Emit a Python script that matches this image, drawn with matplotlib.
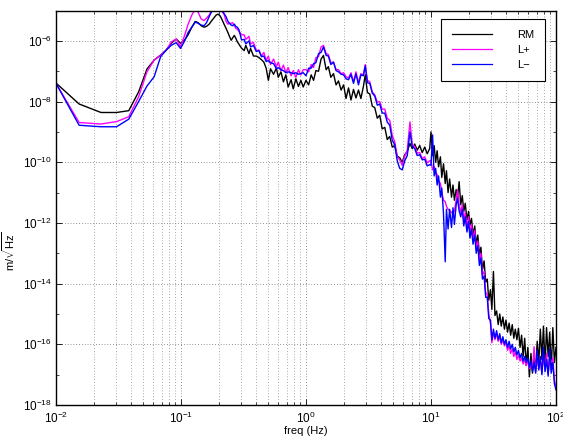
import numpy as np
import matplotlib
matplotlib.use('Agg')
import matplotlib.pyplot as plt
from matplotlib.ticker import LogLocator, NullFormatter, LogFormatterSciNotation

plt.rcParams['font.family'] = ['Liberation Sans', 'DejaVu Sans']
plt.rcParams['mathtext.fontset'] = 'custom'
plt.rcParams['mathtext.rm'] = 'Liberation Sans'
plt.rcParams['mathtext.it'] = 'Liberation Sans:italic'
plt.rcParams['font.size'] = 8

## ---------------------------------------------------------------
## Spectra, stored as log10 of the amplitude (m/sqrt(Hz))

# 0.01 - 0.3 Hz (raw FFT bins)
freq_low = [0.0100, 0.0153, 0.0229, 0.0305, 0.0382, 0.0458, 0.0534, 0.0610, 0.0687, 0.0763,
            0.0839, 0.0916, 0.0992, 0.107, 0.114, 0.122, 0.130, 0.137, 0.145, 0.153,
            0.160, 0.168, 0.175, 0.183, 0.191, 0.198, 0.206, 0.214, 0.221, 0.229,
            0.237, 0.244, 0.252, 0.259, 0.267, 0.275, 0.282, 0.290, 0.298, 0.305]
rm_low = [-7.39, -8.08, -8.36, -8.36, -8.30, -7.68, -6.93, -6.63, -6.47, -6.30,
          -6.07, -5.94, -6.08, -5.97, -5.80, -5.55, -5.36, -5.40, -5.50, -5.55,
          -5.52, -5.45, -5.35, -5.25, -5.15, -5.12, -5.18, -5.32, -5.45, -5.58,
          -5.72, -5.85, -5.98, -5.90, -5.82, -5.92, -6.03, -6.10, -6.18, -6.24]
lp_low = [-7.40, -8.69, -8.74, -8.66, -8.50, -7.84, -7.02, -6.63, -6.47, -6.30,
          -6.03, -5.94, -6.19, -5.81, -5.45, -5.15, -4.95, -5.05, -5.28, -5.33,
          -5.25, -5.15, -5.02, -4.92, -4.90, -4.95, -4.98, -5.05, -5.12, -5.35,
          -5.45, -5.42, -5.42, -5.40, -5.50, -5.59, -5.62, -5.68, -5.74, -5.80]
lm_low = [-7.40, -8.78, -8.83, -8.83, -8.58, -8.00, -7.49, -7.18, -6.52, -6.30,
          -6.14, -6.06, -6.25, -6.00, -5.72, -5.55, -5.38, -5.42, -5.48, -5.50,
          -5.40, -5.20, -5.05, -4.95, -4.92, -4.95, -4.97, -5.00, -5.10, -5.20,
          -5.35, -5.42, -5.48, -5.50, -5.45, -5.53, -5.55, -5.62, -5.80, -5.97]

# 0.3 - 1 Hz
freq_mid = [0.32, 0.33, 0.35, 0.36, 0.38, 0.40, 0.42, 0.44, 0.46, 0.48,
            0.50, 0.52, 0.55, 0.58, 0.60, 0.63, 0.66, 0.69, 0.72, 0.76,
            0.79, 0.83, 0.87, 0.91, 0.95]
rm_mid = [-6.32, -6.15, -6.42, -6.25, -6.50, -6.50, -6.55, -6.62, -6.70, -6.90,
          -7.30, -6.92, -7.10, -6.90, -7.20, -7.02, -7.35, -7.12, -7.52, -7.28,
          -7.58, -7.25, -7.50, -7.30, -7.52]
lp_mid = [-5.80, -5.95, -5.85, -6.10, -6.05, -6.32, -6.30, -6.50, -6.38, -6.65,
          -6.50, -6.78, -6.60, -6.85, -6.70, -6.98, -6.80, -7.05, -6.88, -7.15,
          -6.98, -7.20, -6.95, -7.12, -6.95]
lm_mid = [-5.95, -6.10, -6.00, -6.20, -6.15, -6.35, -6.32, -6.52, -6.50, -6.68,
          -6.65, -6.72, -6.75, -6.92, -6.88, -6.95, -6.98, -7.05, -7.02, -7.05,
          -7.08, -7.05, -7.10, -7.08, -7.05]

# 1 - 10 Hz
freq_hi = [1.00, 1.05, 1.10, 1.15, 1.20, 1.26, 1.32, 1.38, 1.45, 1.51,
           1.58, 1.66, 1.74, 1.82, 1.91, 2.00, 2.09, 2.19, 2.29, 2.40,
           2.51, 2.63, 2.75, 2.88, 2.98, 3.10, 3.24, 3.39, 3.55, 3.72,
           3.89, 4.07, 4.27, 4.47, 4.68, 4.90, 5.13, 5.37, 5.62, 5.89,
           6.17, 6.46, 6.79, 7.08, 7.41, 7.76, 8.13, 8.51, 8.91, 9.33, 9.77]
rm_hi = [-7.30, -7.45, -7.12, -7.30, -6.98, -7.00, -6.60, -6.48, -6.95, -6.85,
         -7.20, -7.08, -7.45, -7.32, -7.62, -7.45, -7.90, -7.55, -7.95, -7.60,
         -7.88, -7.62, -7.90, -7.50, -7.12, -7.70, -7.75, -8.15, -8.20, -8.55,
         -8.45, -8.90, -8.85, -9.25, -9.15, -9.50, -9.45, -9.80, -9.85, -10.00,
         -9.75, -9.65, -9.38, -9.55, -9.40, -9.60, -9.45, -9.68, -9.50, -9.72, -9.55]
lp_hi = [-6.95, -7.02, -6.78, -6.88, -6.55, -6.52, -6.20, -6.15, -6.42, -6.45,
         -6.72, -6.70, -6.95, -6.95, -7.08, -7.05, -7.18, -7.22, -7.05, -7.35,
         -7.02, -7.38, -7.08, -7.12, -6.78, -7.30, -7.35, -7.68, -7.78, -8.02,
         -8.00, -8.25, -8.25, -8.55, -8.62, -9.12, -9.32, -9.82, -9.92, -10.10,
         -9.80, -9.60, -8.67, -9.42, -9.48, -9.70, -9.68, -9.88, -9.82, -10.02, -9.95]
lm_hi = [-7.15, -6.90, -6.90, -6.75, -6.72, -6.42, -6.38, -6.20, -6.48, -6.50,
         -6.78, -6.70, -6.98, -7.02, -7.10, -7.12, -7.25, -7.28, -7.10, -7.40,
         -7.08, -7.45, -7.12, -7.15, -6.82, -7.38, -7.40, -7.72, -7.82, -8.12,
         -8.08, -8.38, -8.38, -8.68, -8.78, -9.28, -9.42, -9.95, -10.20, -10.25,
         -9.95, -9.78, -9.00, -9.48, -9.55, -9.78, -9.75, -9.92, -9.90, -10.12, -10.08]

# 10 - 100 Hz
freq_top = [10.0, 10.3, 10.6, 10.9, 11.2, 11.5, 11.9, 12.2, 12.6, 13.0,
            13.3, 13.7, 14.1, 14.6, 15.0, 15.4, 15.9, 16.3, 16.8, 17.3,
            17.8, 18.3, 18.8, 19.4, 20.0, 20.5, 21.1, 21.7, 22.4, 23.0,
            23.7, 24.4, 25.1, 25.8, 26.6, 27.4, 28.2, 29.0, 29.9, 30.7,
            31.6, 32.5, 33.5, 34.5, 35.5, 36.5, 37.6, 38.7, 39.8, 41.0,
            42.2, 43.4, 44.7, 46.0, 47.3, 48.7, 50.1, 51.6, 53.1, 54.6,
            56.2, 57.8, 59.6, 61.3, 63.1, 64.9, 66.8, 68.8, 70.8, 72.9,
            75.0, 77.2, 79.4, 81.8, 84.1, 86.6, 89.1, 91.7, 94.4, 97.2, 100.0]
rm_top = [-9.00, -9.78, -9.45, -10.00, -9.62, -10.15, -9.82, -10.50, -10.05, -10.70,
          -10.28, -11.00, -10.55, -11.15, -10.75, -11.25, -10.90, -11.20, -10.64, -11.40,
          -11.10, -11.62, -11.35, -11.90, -11.62, -12.08, -11.85, -12.40, -12.10, -12.70,
          -12.40, -13.05, -12.80, -13.55, -13.25, -13.95, -13.85, -14.55, -14.20, -14.85,
          -13.60, -15.05, -14.90, -15.35, -15.00, -15.40, -15.10, -15.50, -15.20, -15.60,
          -15.30, -15.70, -15.35, -15.80, -15.50, -15.85, -15.47, -16.10, -15.70, -16.40,
          -15.80, -16.70, -16.10, -17.07, -16.30, -16.95, -16.40, -16.80, -15.90, -16.60,
          -15.50, -16.50, -15.40, -16.70, -15.45, -16.40, -15.60, -16.85, -15.45, -16.60, -16.10]
lp_top = [-9.95, -10.25, -10.15, -10.35, -10.40, -10.60, -10.70, -11.00, -11.25, -11.30,
          -11.45, -11.55, -11.60, -11.65, -11.70, -11.60, -11.25, -10.92, -11.40, -11.65,
          -11.40, -11.95, -11.65, -12.15, -11.80, -12.35, -12.05, -12.55, -12.25, -12.85,
          -12.60, -13.25, -13.00, -13.70, -13.60, -14.30, -14.35, -15.00, -15.30, -15.95,
          -15.60, -15.85, -15.65, -15.90, -15.75, -16.00, -15.85, -16.05, -15.95, -16.20,
          -16.05, -16.30, -16.15, -16.40, -16.25, -16.50, -16.35, -16.55, -16.45, -16.65,
          -16.50, -16.70, -16.55, -16.80, -16.65, -16.85, -16.08, -16.90, -16.45, -16.80,
          -16.50, -16.95, -16.40, -16.85, -16.30, -16.95, -16.55, -16.60, -16.45, -17.20, -17.40]
lm_top = [-10.10, -9.10, -10.45, -10.20, -10.75, -10.45, -11.15, -10.85, -11.70, -13.28,
          -11.55, -12.20, -11.55, -12.15, -11.50, -12.05, -11.40, -11.20, -11.60, -11.80,
          -11.55, -12.10, -11.80, -12.30, -11.95, -12.50, -12.20, -12.70, -12.40, -13.00,
          -12.75, -13.40, -13.15, -13.85, -13.75, -14.45, -14.45, -15.15, -15.20, -15.86,
          -15.50, -15.80, -15.55, -15.85, -15.65, -15.95, -15.75, -16.00, -15.85, -16.10,
          -15.90, -16.15, -16.00, -16.25, -16.10, -16.35, -16.20, -16.45, -16.30, -16.55,
          -16.40, -16.60, -16.45, -16.75, -16.55, -16.90, -16.60, -16.95, -16.20, -16.85,
          -16.40, -17.00, -16.10, -16.90, -16.50, -17.05, -16.15, -16.95, -16.60, -17.30, -17.50]

freq = np.array(freq_low + freq_mid + freq_hi + freq_top)
RM = 10 ** np.array(rm_low + rm_mid + rm_hi + rm_top)
Lplus = 10 ** np.array(lp_low + lp_mid + lp_hi + lp_top)
Lminus = 10 ** np.array(lm_low + lm_mid + lm_hi + lm_top)

## ---------------------------------------------------------------
## Plot

fig = plt.figure(figsize=(5.63, 4.37), dpi=100)
ax = fig.add_axes([0.0995, 0.0732, 0.888, 0.9027])

ax.loglog(freq, RM, color='k', lw=1.0, label='RM')
ax.loglog(freq, Lplus, color='#ff00ff', lw=1.0, label='L+')
ax.loglog(freq, Lminus, color='#0000ff', lw=1.0, label='L\u2212')

ax.set_xlim(1e-2, 1e2)
ax.set_ylim(1e-18, 1e-5)

ax.xaxis.set_major_locator(LogLocator(base=10, numticks=10))
ax.xaxis.set_minor_locator(LogLocator(base=10, subs=np.arange(2, 10), numticks=20))
ax.xaxis.set_minor_formatter(NullFormatter())
ax.yaxis.set_major_locator(LogLocator(base=100, numticks=20))
ax.yaxis.set_major_formatter(LogFormatterSciNotation(base=10))
ax.yaxis.set_minor_locator(LogLocator(base=10, subs=[1.0], numticks=20))
ax.yaxis.set_minor_formatter(NullFormatter())

ax.tick_params(which='both', direction='in', top=True, right=True, labelsize=8.5)
ax.tick_params(which='major', length=4, width=0.6)
ax.tick_params(which='minor', length=2.5, width=0.5)
ax.tick_params(axis='x', pad=4)
ax.tick_params(axis='y', pad=3)

dots = (0, (0.8, 2.6))
ax.grid(True, which='major', axis='both', color='0.3', linestyle=dots, lw=0.6)
ax.grid(True, which='minor', axis='x', color='0.45', linestyle=dots, lw=0.6)
for s in ax.spines.values():
    s.set_linewidth(1.0)

ax.set_xlabel('freq (Hz)', fontsize=8, labelpad=0)
ax.set_ylabel(r'm/$\sqrt{\mathrm{Hz}}$', fontsize=8)
ax.yaxis.set_label_coords(-0.078, 0.39)

leg = ax.legend(loc='upper right', bbox_to_anchor=(0.978, 0.978), borderaxespad=0,
                fontsize=8, handlelength=3.6, handletextpad=2.2, labelspacing=0.45,
                borderpad=1.0, fancybox=False, framealpha=1, edgecolor='k')
leg.get_frame().set_linewidth(0.8)
for line in leg.get_lines():
    line.set_linewidth(0.9)

fig.savefig('out.png', dpi=100)
